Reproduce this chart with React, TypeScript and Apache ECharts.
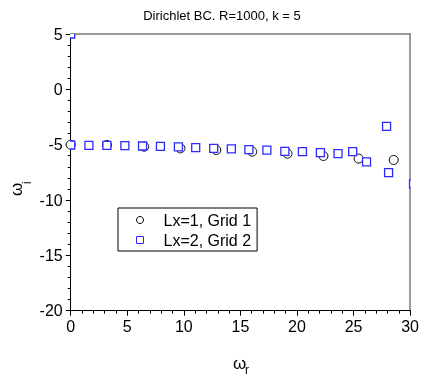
import React, { useEffect, useRef } from "react";
import * as echarts from "echarts";

const titleText = "Dirichlet BC. R=1000, k = 5";
const seriesNames = ["Lx=1, Grid 1", "Lx=2, Grid 2"];

const grid1X = [0, 3.2, 6.5, 9.7, 12.87, 16.05, 19.16, 22.34, 25.45, 28.55];
const grid1Y = [-5.0, -5.03, -5.18, -5.33, -5.48, -5.63, -5.81, -6.02, -6.26, -6.38];

const grid2X = [0, 0, 1.61, 3.2, 4.79, 6.35, 7.93, 9.52, 11.05, 12.64, 14.2, 15.75, 17.34, 18.93, 20.48, 22.07, 23.63, 24.92, 26.15, 27.92, 28.1, 30.3];
const grid2Y = [5.0, -5.03, -5.06, -5.06, -5.09, -5.12, -5.15, -5.2, -5.26, -5.33, -5.38, -5.44, -5.5, -5.6, -5.63, -5.72, -5.8, -5.63, -6.56, -3.34, -7.53, -8.55];

const xMin = 0, xMax = 30, xStep = 5;
const yMin = -20, yMax = 5, yStep = 5;

const FONT = "'Liberation Sans', Arial, sans-serif";
const BLUE = "#2b2bff";

export default function App() {
  const ref = useRef<HTMLDivElement>(null);
  useEffect(() => {
    if (!ref.current) return;
    const chart = echarts.init(ref.current, undefined, { renderer: "svg" });
    const circles = grid1X.map((x, i) => [x, grid1Y[i]]);
    const squares = grid2X.map((x, i) => [x, grid2Y[i]]);
    chart.setOption({
      animation: false,
      title: {
        text: titleText,
        left: 217,
        textAlign: "center",
        top: 4,
        textStyle: { fontFamily: FONT, fontSize: 13, fontWeight: "normal", color: "#000" },
      },
      grid: { left: 70.7, right: 11, top: 34, bottom: 68.3, containLabel: false },
      legend: {
        orient: "vertical",
        left: 118,
        top: 208,
        padding: [4, 6, 3, 18],
        borderColor: "#000",
        borderWidth: 1,
        itemWidth: 7,
        itemHeight: 7,
        itemGap: 4,
        selectedMode: false,
        textStyle: { fontFamily: FONT, fontSize: 16, lineHeight: 16, color: "#000", padding: [0, 0, 0, 15] },
        data: [
          { name: seriesNames[0], icon: "circle", itemStyle: { color: "#fff", borderColor: "#000", borderWidth: 1 } },
          { name: seriesNames[1], icon: "rect", itemStyle: { color: "#fff", borderColor: BLUE, borderWidth: 1 } },
        ],
      },
      xAxis: [
        {
          type: "value",
          min: xMin,
          max: xMax,
          interval: xStep,
          position: "bottom",
          splitLine: { show: false },
          axisLine: { onZero: false, lineStyle: { color: "#000", width: 1 } },
          axisTick: { length: 5, lineStyle: { color: "#000" } },
          minorTick: { show: true, splitNumber: 5, length: 3, lineStyle: { color: "#000" } },
          axisLabel: { fontFamily: FONT, fontSize: 16, color: "#000", margin: 8 },
        },
        {
          type: "value",
          min: xMin,
          max: xMax,
          position: "top",
          splitLine: { show: false },
          axisLine: { onZero: false, lineStyle: { color: "#7a7a7a", width: 1.5 } },
          axisTick: { show: false },
          axisLabel: { show: false },
        },
      ],
      yAxis: [
        {
          type: "value",
          min: yMin,
          max: yMax,
          interval: yStep,
          position: "left",
          splitLine: { show: false },
          axisLine: { onZero: false, lineStyle: { color: "#000", width: 1 } },
          axisTick: { length: 5, lineStyle: { color: "#000" } },
          minorTick: { show: true, splitNumber: 5, length: 3, lineStyle: { color: "#000" } },
          axisLabel: { fontFamily: FONT, fontSize: 16, color: "#000", margin: 8 },
        },
        {
          type: "value",
          min: yMin,
          max: yMax,
          position: "right",
          splitLine: { show: false },
          axisLine: { onZero: false, lineStyle: { color: "#7a7a7a", width: 1.5 } },
          axisTick: { show: false },
          axisLabel: { show: false },
        },
      ],
      graphic: [
        { type: "text", left: 233, top: 355, style: { text: "ω", font: `17px ${FONT}`, fill: "#000" } },
        { type: "text", left: 245, top: 364, style: { text: "r", font: `12px ${FONT}`, fill: "#000" } },
        { type: "text", x: 8, y: 196, rotation: Math.PI / 2, style: { text: "ω", font: `17px ${FONT}`, fill: "#000" } },
        { type: "text", x: 21, y: 184, rotation: Math.PI / 2, style: { text: "i", font: `12px ${FONT}`, fill: "#000" } },
      ],
      series: [
        {
          name: seriesNames[0],
          type: "scatter",
          xAxisIndex: 0,
          yAxisIndex: 0,
          data: circles,
          symbol: "circle",
          symbolSize: 9,
          itemStyle: { color: "#fff", borderColor: "#000", borderWidth: 1, opacity: 1 },
          z: 2,
        },
        {
          name: seriesNames[1],
          type: "custom",
          xAxisIndex: 0,
          yAxisIndex: 0,
          clip: true,
          data: squares,
          encode: { x: 0, y: 1 },
          itemStyle: { color: "#fff", borderColor: BLUE },
          renderItem: (params: any, api: any) => {
            const p = api.coord([api.value(0), api.value(1)]);
            return {
              type: "rect",
              shape: { x: p[0] - 4, y: p[1] - 4, width: 8, height: 8 },
              style: { fill: "#fff", stroke: BLUE, lineWidth: 1.3 },
            };
          },
          z: 3,
        },
      ],
    });
    return () => chart.dispose();
  }, []);
  return <div ref={ref} style={{ position: "fixed", left: 0, top: 0, width: 422, height: 379 }} />;
}
